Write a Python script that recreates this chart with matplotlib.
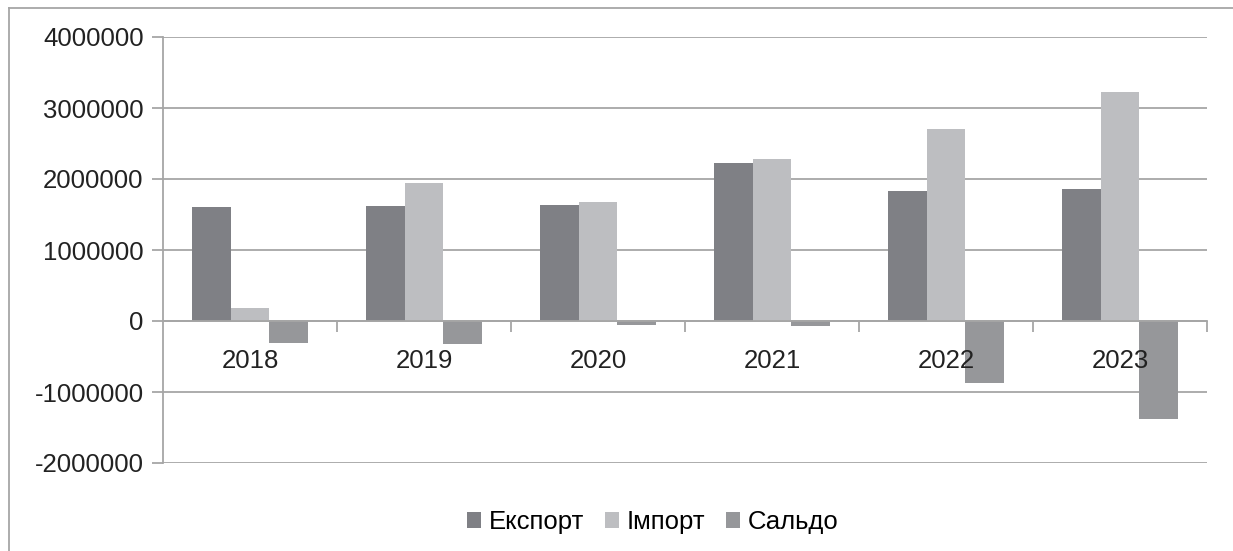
import numpy as np
import matplotlib
matplotlib.use('agg')
import matplotlib.pyplot as plt
from matplotlib.lines import Line2D
from matplotlib.transforms import offset_copy

years = ['2018', '2019', '2020', '2021', '2022', '2023']
export = [1600000, 1620000, 1630000, 2220000, 1830000, 1860000]
imports = [180000, 1940000, 1670000, 2280000, 2700000, 3230000]
saldo = [-310000, -320000, -50000, -70000, -880000, -1380000]
series_names = ['Експорт', 'Імпорт', 'Сальдо']
colors = ['#7f8085', '#bdbec1', '#96979a']

plt.rcParams['font.family'] = ['Liberation Sans', 'DejaVu Sans']

fig = plt.figure(figsize=(12.33, 5.51), dpi=100)
ax = fig.add_axes([163/1233, 1-463/551, (1207-163)/1233, (463-37)/551])

x = np.arange(len(years))
w = 0.221
for i, vals in enumerate([export, imports, saldo]):
    ax.bar(x + (i-1)*w, vals, w, color=colors[i], label=series_names[i], zorder=3)

ax.set_xlim(-0.5, len(years)-0.5)
ax.set_ylim(-2000000, 4000000)
ax.set_yticks(np.arange(-2000000, 4000001, 1000000))
ax.set_yticklabels([str(v) for v in range(-2000000, 4000001, 1000000)], fontsize=18.5, color='#222222')
ax.yaxis.grid(True, color='#a6a6a6', linewidth=1.3, zorder=0)
ax.tick_params(axis='y', length=8, width=1.3, color='#a6a6a6', pad=6)

ax.spines['bottom'].set_position(('data', 0))
ax.spines['bottom'].set_color('#a6a6a6')
ax.spines['bottom'].set_linewidth(1.3)
ax.spines['bottom'].set_zorder(4)
ax.spines['left'].set_color('#a6a6a6')
ax.spines['left'].set_linewidth(1.3)
ax.spines['top'].set_visible(False)
ax.spines['right'].set_visible(False)

# category boundaries as tick marks, year labels drawn on top of the bars
ax.set_xticks([])
ax.set_xticks(np.arange(0.5, len(years), 1), minor=True)
ax.tick_params(axis='x', which='minor', length=8, width=1.3, color='#a6a6a6')
lab_tr = offset_copy(ax.transData, fig=fig, x=0, y=-20, units='points')
for i, yr in enumerate(years):
    ax.text(i, 0, yr, transform=lab_tr, ha='center', va='top', fontsize=18.5,
            color='#222222', zorder=6)

fig.legend(loc='center', bbox_to_anchor=(653/1233, 1-522/551), ncol=3, frameon=False,
           fontsize=18.5, handlelength=0.55, handleheight=0.55, handletextpad=0.3,
           columnspacing=0.8)

# outer chart border
fig.add_artist(Line2D([9/1233, 1], [1-8/551, 1-8/551], transform=fig.transFigure, color='#a6a6a6', lw=1.3))
fig.add_artist(Line2D([9/1233, 9/1233], [0, 1-8/551], transform=fig.transFigure, color='#a6a6a6', lw=1.3))

fig.savefig('out.png', dpi=100)
